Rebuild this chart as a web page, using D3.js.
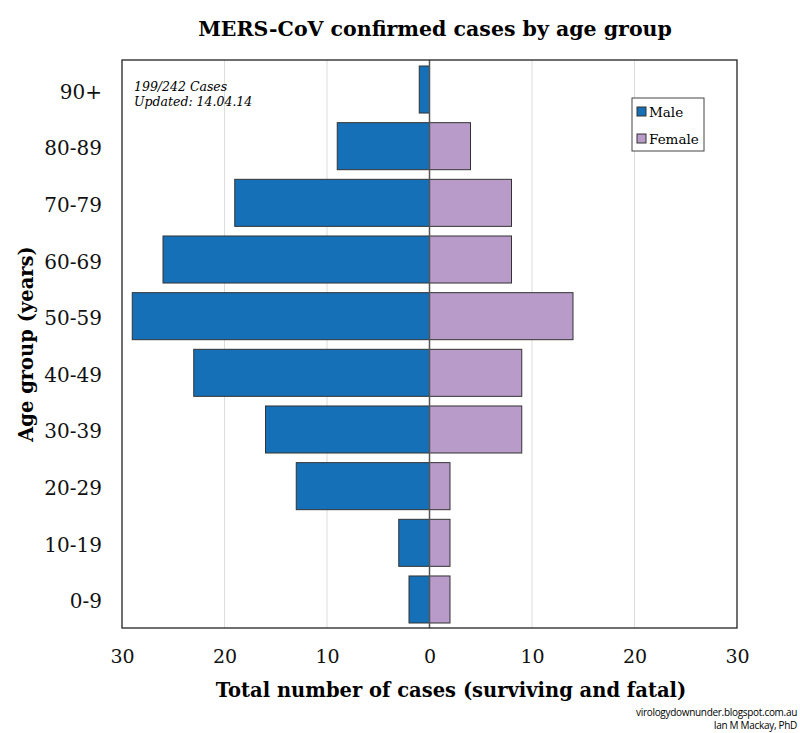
<!DOCTYPE html>
<html>
<head>
<meta charset="utf-8">
<script src="https://cdn.jsdelivr.net/npm/d3@7"></script>
<style>
  body { margin: 0; background: #fff; }
  svg text { font-family: "DejaVu Serif", Georgia, serif; }
</style>
</head>
<body>
<div id="chart"></div>
<script>
// age groups, top to bottom as drawn
const ageGroups = ['90+', '80-89', '70-79', '60-69', '50-59', '40-49', '30-39', '20-29', '10-19', '0-9'];
const maleCases = [1, 9, 19, 26, 29, 23, 16, 13, 3, 2];
const femaleCases = [0, 4, 8, 8, 14, 9, 9, 2, 2, 2];
const xTicks = [-30, -20, -10, 0, 10, 20, 30];
const seriesNames = ['Male', 'Female'];

const width = 800, height = 733;
const margin = { top: 60, right: 63, bottom: 105, left: 122 };
const innerW = width - margin.left - margin.right;
const innerH = height - margin.top - margin.bottom;
const colors = { Male: '#1570b8', Female: '#b89bc8' };

const svg = d3.select('#chart').append('svg')
    .attr('width', width)
    .attr('height', height);

const plot = svg.append('g')
    .attr('transform', `translate(${margin.left},${margin.top})`);

// scales
const xScale = d3.scaleLinear()
    .domain([-30, 30])
    .range([0, innerW]);

const yScale = d3.scaleBand()
    .domain(ageGroups)
    .range([6, innerH - 5])
    .paddingInner(0.17)
    .paddingOuter(0);

// grid lines
plot.append('g')
    .selectAll('line')
    .data(xTicks.filter(d => d !== 0 && Math.abs(d) !== 30))
    .enter()
    .append('line')
    .attr('x1', d => xScale(d))
    .attr('x2', d => xScale(d))
    .attr('y1', 0)
    .attr('y2', innerH)
    .style('stroke', '#dcdcdc')
    .style('stroke-width', 1);

// bars
const rows = ageGroups.map((g, i) => ({ group: g, male: maleCases[i], female: femaleCases[i] }));

plot.selectAll('.male')
    .data(rows)
    .enter()
    .append('rect')
    .attr('class', 'male')
    .attr('x', d => xScale(-d.male))
    .attr('y', d => yScale(d.group))
    .attr('width', d => xScale(0) - xScale(-d.male))
    .attr('height', yScale.bandwidth())
    .style('fill', colors.Male)
    .style('stroke', '#333')
    .style('stroke-width', 1);

plot.selectAll('.female')
    .data(rows.filter(d => d.female > 0))
    .enter()
    .append('rect')
    .attr('class', 'female')
    .attr('x', xScale(0))
    .attr('y', d => yScale(d.group))
    .attr('width', d => xScale(d.female) - xScale(0))
    .attr('height', yScale.bandwidth())
    .style('fill', colors.Female)
    .style('stroke', '#333')
    .style('stroke-width', 1);

// zero line
plot.append('line')
    .attr('x1', xScale(0))
    .attr('x2', xScale(0))
    .attr('y1', 0)
    .attr('y2', innerH)
    .style('stroke', '#555')
    .style('stroke-width', 1.5);

// frame
plot.append('rect')
    .attr('width', innerW)
    .attr('height', innerH)
    .style('fill', 'none')
    .style('stroke', '#222')
    .style('stroke-width', 1.3);

// axes
const xAxis = plot.append('g')
    .attr('transform', `translate(0,${innerH})`)
    .call(d3.axisBottom(xScale).tickValues(xTicks).tickSize(0).tickPadding(22)
        .tickFormat(d => Math.abs(d)));
xAxis.select('.domain').remove();
xAxis.selectAll('text')
    .style('font-size', '19px')
    .style('fill', '#111')
    .style('font-family', '"DejaVu Serif", serif');

const yAxis = plot.append('g')
    .call(d3.axisLeft(yScale).tickSize(0).tickPadding(20));
yAxis.select('.domain').remove();
yAxis.selectAll('text')
    .attr('dy', '0.45em')
    .style('font-size', '20px')
    .style('fill', '#111')
    .style('font-family', '"DejaVu Serif", serif');

// titles
svg.append('text')
    .attr('x', 435)
    .attr('y', 36)
    .attr('text-anchor', 'middle')
    .style('font-size', '20.5px')
    .style('font-weight', 'bold')
    .text('MERS-CoV confirmed cases by age group');

svg.append('text')
    .attr('x', 451)
    .attr('y', 697)
    .attr('text-anchor', 'middle')
    .style('font-size', '19.5px')
    .style('font-weight', 'bold')
    .text('Total number of cases (surviving and fatal)');

svg.append('text')
    .attr('transform', `translate(33,${margin.top + innerH / 2}) rotate(-90)`)
    .attr('text-anchor', 'middle')
    .style('font-size', '19.5px')
    .style('font-weight', 'bold')
    .text('Age group (years)');

// annotation
const note = svg.append('text')
    .attr('x', 134)
    .attr('y', 91)
    .style('font-size', '12.5px')
    .style('font-style', 'italic');
note.append('tspan').attr('x', 134).text('199/242 Cases');
note.append('tspan').attr('x', 134).attr('dy', 15).text('Updated: 14.04.14');

// legend
const legend = svg.append('g')
    .attr('transform', 'translate(632,98)');
legend.append('rect')
    .attr('width', 72)
    .attr('height', 53)
    .style('fill', '#fff')
    .style('stroke', '#444');
const items = legend.selectAll('.legend')
    .data(seriesNames)
    .enter()
    .append('g')
    .attr('transform', (d, i) => `translate(5,${9 + i * 27})`);
items.append('rect')
    .attr('width', 9)
    .attr('height', 9)
    .style('fill', d => colors[d])
    .style('stroke', '#333');
items.append('text')
    .attr('x', 12)
    .attr('y', 10)
    .style('font-size', '13.5px')
    .text(d => d);

// credit
const credit = svg.append('text')
    .attr('text-anchor', 'end')
    .style('font-family', '"Open Sans", "DejaVu Sans", sans-serif')
    .style('font-size', '10px')
    .style('letter-spacing', '-0.3px');
credit.append('tspan').attr('x', 797).attr('y', 716).text('virologydownunder.blogspot.com.au');
credit.append('tspan').attr('x', 797).attr('y', 729).text('Ian M Mackay, PhD');
</script>
</body>
</html>
